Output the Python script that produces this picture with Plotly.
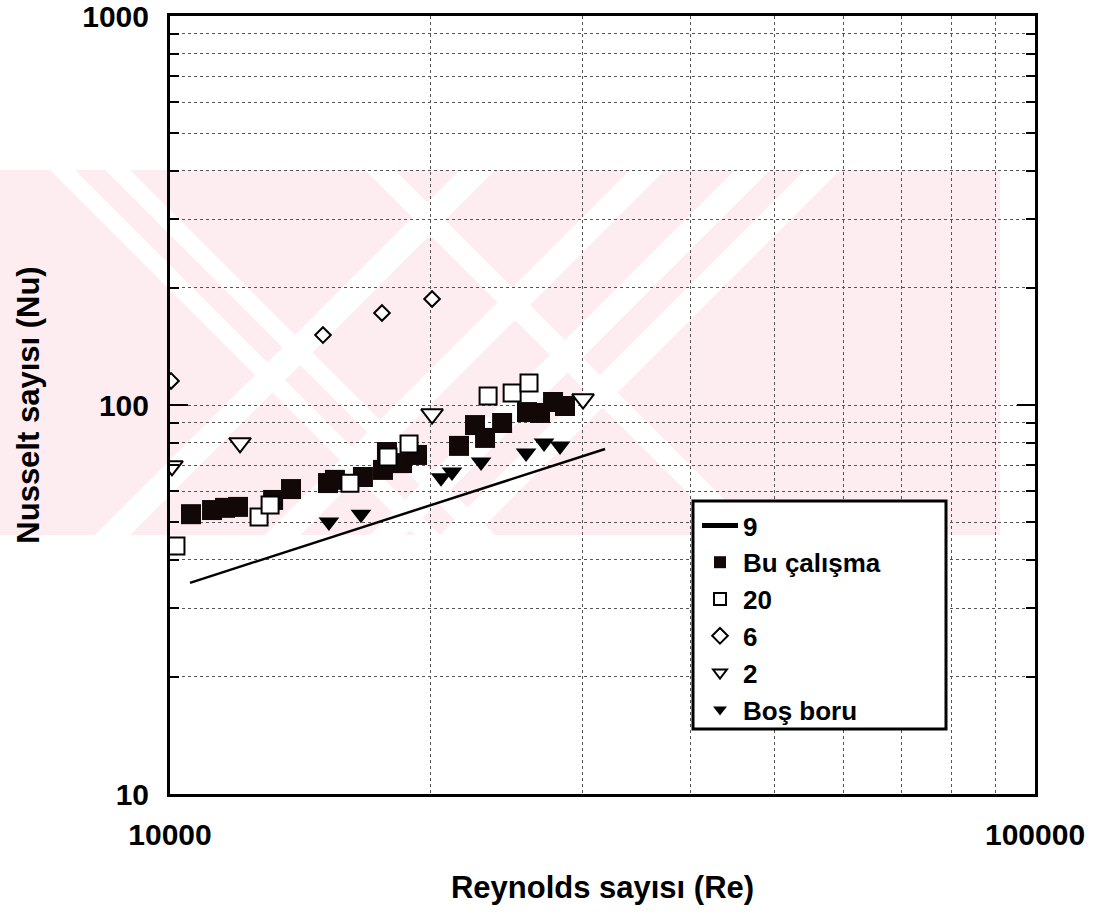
import plotly.graph_objects as go

# ---------------- data ----------------
line9_re = [10547, 31838]
line9_nu = [34.9, 77.1]

bu_re = [10575, 11184, 11577, 11984, 13158, 13800, 15228, 15512, 16713, 17628,
         17816, 18545, 19301, 21584, 22523, 23133, 24206, 25866, 26776, 27722, 28617]
bu_nu = [52.4, 53.7, 54.4, 54.7, 57.0, 60.8, 63.0, 64.2, 65.3, 68.1,
         75.7, 70.9, 74.4, 78.5, 88.8, 82.3, 89.9, 95.9, 95.4, 101.8, 99.4]

ref20_re = [10160, 12675, 13053, 16144, 17866, 18895, 23320, 24862, 26004]
ref20_nu = [43.4, 51.5, 55.3, 62.9, 73.5, 79.4, 105.5, 107.3, 113.9]

ref6_re = [10027, 15026, 17582, 20089]
ref6_nu = [115.3, 151.3, 172.4, 187.3]

ref2_re = [10053, 12049, 20089, 30025]
ref2_nu = [69.7, 79.9, 94.8, 103.6]

bos_re = [15266, 16624, 20575, 21184, 22888, 25800, 27065, 28243]
bos_nu = [50.0, 52.4, 65.0, 67.3, 71.4, 75.3, 79.9, 78.5]

x_major = [10000, 100000]
x_major_text = ["10000", "100000"]
x_minor = [20000, 30000, 40000, 50000, 60000, 70000, 80000, 90000]
y_major = [10, 100, 1000]
y_major_text = ["10", "100", "1000"]
y_minor = [20, 30, 40, 50, 60, 70, 80, 90, 200, 300, 400, 500, 600, 700, 800, 900]

# ---------------- figure ----------------
W, H = 1115, 919
L, R, T, B = 170, 80, 16, 125
PW, PH = W - L - R, H - T - B


def px(x):
    return (x - L) / PW


def py(y):
    return (H - B - y) / PH


fig = go.Figure()

fig.add_trace(go.Scatter(x=line9_re, y=line9_nu, mode="lines", name="9",
                         line=dict(color="black", width=2.5), legendrank=1))
fig.add_trace(go.Scatter(x=bu_re, y=bu_nu, mode="markers", name="Bu çalışma",
                         marker=dict(symbol="square", size=20, color="#120808",
                                     line=dict(width=0)), legendrank=2))
fig.add_trace(go.Scatter(x=ref20_re, y=ref20_nu, mode="markers", name="20",
                         marker=dict(symbol="square", size=17, color="white",
                                     line=dict(color="black", width=2)), legendrank=3))
fig.add_trace(go.Scatter(x=ref6_re, y=ref6_nu, mode="markers", name="6",
                         marker=dict(symbol="diamond", size=12, color="white",
                                     line=dict(color="black", width=2)), legendrank=4))
fig.add_trace(go.Scatter(x=ref2_re, y=ref2_nu, mode="markers", name="2",
                         marker=dict(symbol="triangle-down", size=19, color="white",
                                     line=dict(color="black", width=2)), legendrank=5))
fig.add_trace(go.Scatter(x=bos_re, y=bos_nu, mode="markers", name="Boş boru",
                         marker=dict(symbol="triangle-down", size=18, color="black",
                                     line=dict(width=0)), legendrank=6))

# ---------------- faint watermark band (scan artefact) ----------------
PINK = "#fdedf0"
shapes = []
shapes.append(dict(type="rect", xref="paper", yref="paper", layer="below",
                   x0=px(0), x1=px(1000), y0=py(535), y1=py(170),
                   fillcolor=PINK, line=dict(width=0)))


def poly(pts):
    path = "M " + " L ".join(f"{px(a):.4f},{py(b):.4f}" for a, b in pts) + " Z"
    return dict(type="path", xref="paper", yref="paper", layer="below", path=path,
                fillcolor="white", line=dict(width=0))


def slash(c1, c2):
    return poly([(c1 - 170, 170), (c2 - 170, 170), (c2 - 535, 535), (c1 - 535, 535)])


def backslash(d1, d2):
    return poly([(d1 + 170, 170), (d2 + 170, 170), (d2 + 535, 535), (d1 + 535, 535)])


for c1, c2 in [(630, 665), (800, 835), (905, 940), (975, 1010)]:
    shapes.append(slash(c1, c2))
for d1, d2 in [(-120, -95), (-65, -40), (195, 225)]:
    shapes.append(backslash(d1, d2))

# legend frame (white box with heavy border, as in the scan)
shapes.append(dict(type="rect", xref="paper", yref="paper", layer="above",
                   x0=px(693), x1=px(946), y0=py(729), y1=py(501),
                   fillcolor="white", line=dict(color="black", width=3)))

FONT = "Liberation Sans, Arial, sans-serif"

fig.update_layout(
    width=W, height=H,
    margin=dict(l=L, r=R, t=T, b=B, autoexpand=False),
    paper_bgcolor="white",
    plot_bgcolor="rgba(0,0,0,0)",
    shapes=shapes,
    font=dict(family=FONT, color="black", size=30, weight="bold"),
    showlegend=True,
    legend=dict(
        x=px(697), y=py(502), xanchor="left", yanchor="top",
        bgcolor="rgba(0,0,0,0)", borderwidth=0,
        font=dict(family=FONT, size=26, color="black", weight="bold"),
        itemsizing="constant", traceorder="normal", itemwidth=36,
        tracegroupgap=0,
    ),
    xaxis=dict(
        type="log", range=[4, 5], automargin=False,
        showline=True, linewidth=3, linecolor="black", mirror=True,
        tickvals=x_major, ticktext=x_major_text, ticks="",
        tickfont=dict(family=FONT, size=30, color="black", weight="bold"),
        ticklabelstandoff=12, ticklabeloverflow="allow",
        showgrid=False, zeroline=False,
        minor=dict(tickvals=x_minor, ticks="", showgrid=True,
                   gridcolor="#555", griddash="dot", gridwidth=1),
        title=dict(text="Reynolds sayısı (Re)", standoff=27,
                   font=dict(family=FONT, size=31, color="black", weight="bold")),
    ),
    yaxis=dict(
        type="log", range=[1, 3], automargin=False,
        showline=True, linewidth=3, linecolor="black", mirror="ticks",
        tickvals=y_major, ticktext=y_major_text,
        ticks="inside", ticklen=18, tickwidth=2, tickcolor="black",
        tickfont=dict(family=FONT, size=30, color="black", weight="bold"),
        ticklabelstandoff=12, ticklabeloverflow="allow",
        showgrid=True, gridcolor="#555", griddash="dot", gridwidth=1,
        zeroline=False,
        minor=dict(tickvals=y_minor, ticks="inside", ticklen=9, tickwidth=2,
                   tickcolor="black", showgrid=True,
                   gridcolor="#555", griddash="dot", gridwidth=1),
        title=dict(text="Nusselt sayısı (Nu)", standoff=34,
                   font=dict(family=FONT, size=31, color="black", weight="bold")),
    ),
)

fig.write_html("out.html")
